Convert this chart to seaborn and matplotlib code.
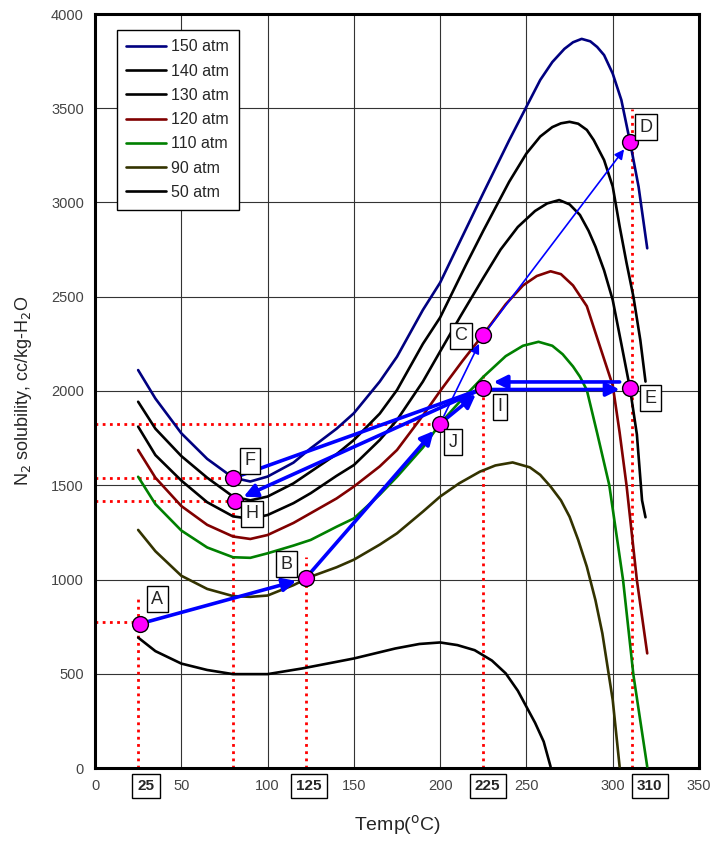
import seaborn as sns
import matplotlib.pyplot as plt
import matplotlib.transforms as mtransforms
import pandas as pd

# Solubility curves (temperature in C, solubility in cc/kg-H2O)
temps_150 = [25, 35, 50, 65, 80, 90, 100, 115, 125, 140, 150, 165, 175, 190, 200, 215, 225, 240, 250, 258, 265, 272, 277, 282, 287, 291, 295, 300, 305, 310, 315, 320]
sol_150 = [2111, 1960, 1776, 1640, 1540, 1520, 1546, 1620, 1696, 1800, 1882, 2050, 2182, 2430, 2575, 2860, 3050, 3330, 3508, 3650, 3745, 3815, 3850, 3868, 3855, 3825, 3782, 3684, 3544, 3323, 3083, 2757]

temps_140 = [25, 35, 50, 65, 80, 90, 100, 115, 125, 140, 150, 165, 175, 190, 200, 215, 225, 240, 250, 258, 265, 270, 275, 280, 285, 289, 295, 300, 304, 308, 312, 316, 319]
sol_140 = [1943, 1800, 1655, 1540, 1440, 1420, 1440, 1510, 1572, 1665, 1740, 1880, 2005, 2250, 2390, 2670, 2850, 3110, 3260, 3350, 3400, 3420, 3428, 3418, 3385, 3331, 3225, 3085, 2874, 2680, 2500, 2270, 2050]

temps_130 = [25, 35, 50, 65, 80, 90, 100, 115, 125, 140, 150, 165, 175, 190, 200, 212, 225, 235, 245, 255, 262, 269, 275, 281, 286, 290, 295, 300, 305, 310, 314, 317, 319]
sol_130 = [1811, 1660, 1525, 1410, 1335, 1322, 1342, 1405, 1458, 1550, 1607, 1740, 1846, 2050, 2210, 2400, 2600, 2750, 2870, 2955, 2995, 3013, 2990, 2934, 2850, 2766, 2640, 2483, 2250, 2014, 1770, 1420, 1330]

temps_120 = [25, 35, 50, 65, 80, 90, 100, 115, 125, 140, 150, 165, 175, 190, 200, 213, 225, 238, 248, 256, 264, 270, 277, 285, 292, 300, 304, 308, 314, 320]
sol_120 = [1687, 1540, 1390, 1290, 1228, 1215, 1236, 1300, 1352, 1430, 1493, 1600, 1687, 1870, 2000, 2160, 2300, 2460, 2560, 2610, 2635, 2620, 2560, 2450, 2253, 2030, 1780, 1500, 997, 608]

temps_110 = [25, 35, 50, 65, 80, 90, 100, 115, 125, 140, 150, 165, 175, 190, 200, 213, 225, 238, 248, 257, 265, 271, 277, 281, 285, 291, 298, 306, 312, 320]
sol_110 = [1545, 1400, 1260, 1170, 1118, 1115, 1139, 1180, 1210, 1280, 1324, 1450, 1545, 1700, 1827, 1960, 2075, 2185, 2240, 2261, 2240, 2195, 2130, 2076, 2005, 1776, 1501, 997, 493, 7]

temps_90 = [25, 35, 50, 65, 80, 90, 100, 115, 125, 140, 150, 165, 175, 190, 200, 211, 223, 232, 242, 252, 258, 264, 270, 275, 280, 285, 290, 294, 300, 304]
sol_90 = [1263, 1150, 1020, 950, 912, 908, 915, 970, 1015, 1065, 1105, 1185, 1245, 1360, 1440, 1510, 1572, 1605, 1621, 1595, 1555, 1493, 1420, 1333, 1210, 1068, 890, 714, 361, 7]

temps_50 = [25, 35, 50, 65, 80, 100, 120, 150, 174, 188, 200, 210, 220, 230, 238, 245, 250, 255, 260, 264]
sol_50 = [692, 620, 554, 520, 498, 498, 528, 581, 634, 658, 666, 652, 625, 570, 502, 410, 325, 240, 140, 7]

curve_labels = ['150 atm', '140 atm', '130 atm', '120 atm', '110 atm', '90 atm', '50 atm']
curve_colors = ['#000080', 'black', 'black', '#800000', '#008000', '#333300', 'black']
curve_temps = [temps_150, temps_140, temps_130, temps_120, temps_110, temps_90, temps_50]
curve_sols = [sol_150, sol_140, sol_130, sol_120, sol_110, sol_90, sol_50]

# Marked states A..J
point_names = ['A', 'B', 'C', 'D', 'E', 'F', 'H', 'I', 'J']
point_temps = [26, 122, 225, 310, 310, 80, 81, 225, 200]
point_sols = [765, 1006, 2297, 3323, 2014, 1538, 1418, 2014, 1827]
label_temps = [36, 111, 212, 319.5, 322, 90, 91, 234.5, 207.5]
label_sols = [894, 1080, 2292, 3398, 1961, 1629, 1350, 1917, 1727]

# Arrows between states: (from, to, thick)
arrows = [('A', 'B', True), ('B', 'J', True), ('J', 'I', True), ('J', 'C', False),
          ('C', 'D', False), ('I', 'H', True)]

# Red dotted guide lines
guide_v_temps = [25, 80, 122, 225, 311]
guide_v_tops = [910, 1418, 1120, 2095, 3495]
guide_h_sols = [775, 1538, 1418, 1827]
guide_h_ends = [25, 80, 80, 205]

box_ticks = ['25', '125', '225', '310']
box_tick_pos = [29.5, 124, 227.5, 321.5]

sns.set_style('white')
plt.rcParams['font.family'] = ['Liberation Sans', 'DejaVu Sans']

fig = plt.figure(figsize=(7.15, 8.46), dpi=100)
ax = fig.add_axes([95 / 715, 1 - 768 / 846, 604 / 715, 754 / 846])

for temps, sols, lab, col in zip(curve_temps, curve_sols, curve_labels, curve_colors):
    df = pd.DataFrame({'Temp': temps, 'Solubility': sols})
    sns.lineplot(data=df, x='Temp', y='Solubility', color=col, lw=1.9,
                 label=lab, sort=False, estimator=None, ax=ax, zorder=3)

dot = (0, (1, 1.6))
for t, top in zip(guide_v_temps, guide_v_tops):
    ax.plot([t, t], [0, top], color='red', lw=2, ls=dot, zorder=2)
for v, end in zip(guide_h_sols, guide_h_ends):
    ax.plot([0, end], [v, v], color='red', lw=2, ls=dot, zorder=2)

pts = {n: (t, s) for n, t, s in zip(point_names, point_temps, point_sols)}

for a, b, thick in arrows:
    ax.annotate('', xy=pts[b], xytext=pts[a],
                arrowprops=dict(arrowstyle='-|>', color='blue',
                                lw=2.6 if thick else 1.2,
                                mutation_scale=20 if thick else 14,
                                shrinkA=6, shrinkB=7), zorder=4)
# I -> F line, and the two opposite arrows between I and E
ax.annotate('', xy=pts['F'], xytext=pts['I'],
            arrowprops=dict(arrowstyle='-', color='blue', lw=2.6, shrinkA=6, shrinkB=6), zorder=4)
ax.annotate('', xy=(304, 2008), xytext=(230, 2008),
            arrowprops=dict(arrowstyle='-|>', color='blue', lw=2.6, mutation_scale=20,
                            shrinkA=0, shrinkB=0), zorder=4)
ax.annotate('', xy=(231, 2048), xytext=(304, 2048),
            arrowprops=dict(arrowstyle='-|>', color='blue', lw=2.6, mutation_scale=20,
                            shrinkA=0, shrinkB=0), zorder=4)

ax.scatter(point_temps, point_sols, s=130, color='#ff00ff', edgecolor='black',
           linewidth=1, zorder=6)
for n, t, s in zip(point_names, label_temps, label_sols):
    ax.text(t, s, n, fontsize=13, ha='center', va='center', zorder=7,
            bbox=dict(boxstyle='square,pad=0.25', fc='white', ec='black', lw=1))

trans = mtransforms.blended_transform_factory(ax.transData, ax.transAxes)
for lab, pos in zip(box_ticks, box_tick_pos):
    ax.text(pos, -0.024, lab, transform=trans, fontsize=11, fontweight='bold',
            ha='center', va='center',
            bbox=dict(boxstyle='square,pad=0.35', fc='white', ec='black', lw=1))

ax.set_xlim(0, 350)
ax.set_ylim(0, 4000)
ax.set_xticks(range(0, 351, 50))
ax.set_yticks(range(0, 4001, 500))
ax.grid(True, color='#333333', lw=0.8)
ax.tick_params(length=0, labelsize=10.5, labelcolor='#444444', pad=8)
for sp in ax.spines.values():
    sp.set_color('black')
    sp.set_linewidth(2.2)

ax.set_xlabel('Temp($^{\\mathrm{o}}$C)', fontsize=14, labelpad=14)
ax.set_ylabel('N$_2$ solubility, cc/kg-H$_2$O', fontsize=13, labelpad=12)

leg = ax.legend(loc='upper left', bbox_to_anchor=(0.036, 0.979), borderaxespad=0,
                fontsize=11.5, frameon=True, fancybox=False, edgecolor='black',
                framealpha=1, handlelength=2.5, labelspacing=0.58, borderpad=0.6,
                handletextpad=0.3)
leg.get_frame().set_linewidth(1)
leg.set_zorder(8)

fig.savefig('out.png', dpi=100)
